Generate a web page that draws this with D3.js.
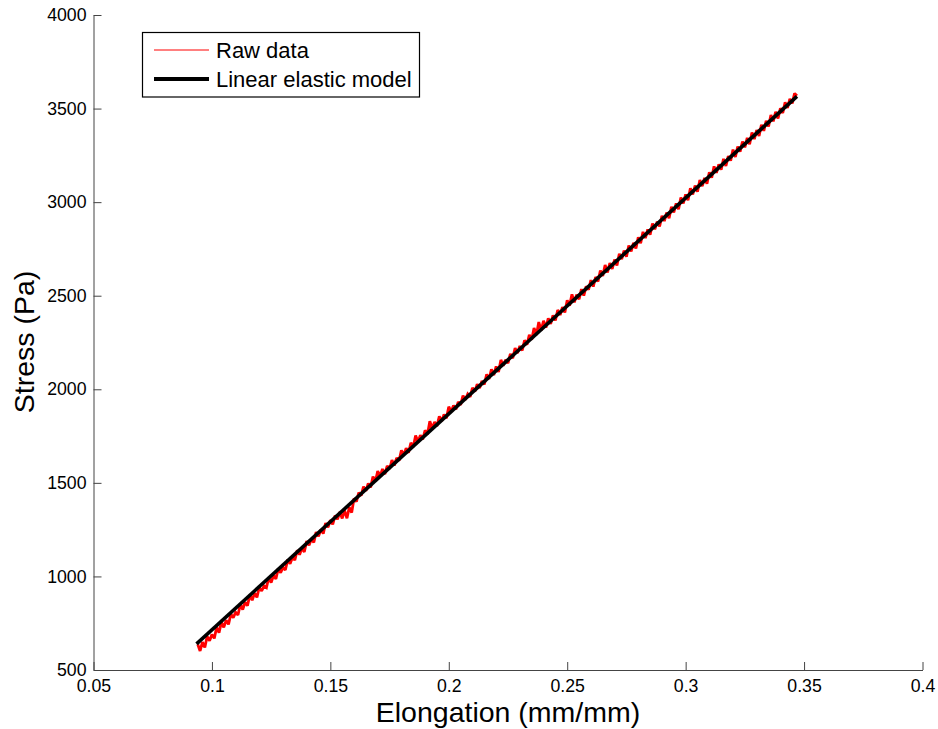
<!DOCTYPE html>
<html>
<head>
<meta charset="utf-8">
<script src="https://cdn.jsdelivr.net/npm/d3@7"></script>
<style>
  html, body { margin: 0; padding: 0; background: #fff; }
  svg { display: block; font-family: "Liberation Sans", Arial, Helvetica, sans-serif; }
</style>
</head>
<body>
<svg id="chart" width="938" height="729"></svg>
<script>
// ---------------- data ----------------
const xTickValues = [0.05, 0.1, 0.15, 0.2, 0.25, 0.3, 0.35, 0.4];
const xTickLabels = ["0.05", "0.1", "0.15", "0.2", "0.25", "0.3", "0.35", "0.4"];
const yTickValues = [500, 1000, 1500, 2000, 2500, 3000, 3500, 4000];
const yTickLabels = ["500", "1000", "1500", "2000", "2500", "3000", "3500", "4000"];

const seriesNames = ["Raw data", "Linear elastic model"];

// raw data: sampled every 0.001 mm/mm starting at 0.094 (stress in Pa)
const rawXStart = 0.094;
const rawXStep = 0.001;
const rawStress = [
  638,602,649,620,680,656,690,669,728,700,
  756,728,766,744,799,779,808,794,851,823,
  862,844,900,873,911,888,942,922,949,940,
  994,967,1005,987,1042,1020,1047,1035,1090,1068,
  1101,1087,1140,1116,1152,1131,1189,1166,1200,1181,
  1237,1214,1250,1229,1285,1262,1300,1278,1325,1305,
  1344,1310,1353,1311,1369,1341,1417,1399,1448,1432,
  1480,1457,1497,1476,1534,1507,1563,1534,1574,1547,
  1591,1574,1622,1593,1633,1619,1674,1648,1685,1661,
  1714,1692,1753,1719,1754,1732,1781,1759,1829,1790,
  1826,1803,1855,1830,1866,1845,1907,1880,1914,1893,
  1933,1917,1966,1944,1975,1959,2008,1988,2027,2007,
  2044,2026,2080,2055,2107,2076,2122,2093,2157,2126,
  2158,2139,2189,2166,2220,2193,2231,2207,2262,2238,
  2291,2265,2328,2290,2359,2315,2366,2330,2379,2349,
  2395,2368,2424,2397,2439,2410,2476,2447,2507,2464,
  2506,2481,2535,2501,2550,2532,2583,2549,2600,2576,
  2635,2605,2664,2624,2674,2643,2693,2662,2724,2695,
  2741,2708,2768,2737,2783,2752,2812,2781,2841,2808,
  2854,2826,2885,2855,2896,2870,2927,2899,2944,2914,
  2975,2945,2993,2962,3024,2993,3041,3010,3074,3041,
  3089,3056,3118,3085,3129,3099,3160,3130,3191,3157,
  3202,3174,3231,3193,3246,3222,3281,3241,3297,3270,
  3324,3293,3343,3310,3372,3337,3385,3354,3414,3381,
  3435,3404,3466,3432,3483,3447,3502,3476,3533,3503,
  3552,3528,3581,3569
];
const rawElongation = rawStress.map((_, i) => rawXStart + rawXStep * i);

// linear elastic model (end points)
const modelElongation = [0.0935, 0.347];
const modelStress = [640, 3565];

// ---------------- layout ----------------
const svg = d3.select("#chart");
const plotLeft = 93.5, plotRight = 922.5, plotTop = 15, plotBottom = 670;
const font = "'Liberation Sans', Arial, Helvetica, sans-serif";

const x = d3.scaleLinear().domain([0.05, 0.4]).range([plotLeft, plotRight]);
const y = d3.scaleLinear().domain([500, 4000]).range([plotBottom, plotTop]);

// axes
const xAxis = d3.axisBottom(x)
  .tickValues(xTickValues)
  .tickFormat((d, i) => xTickLabels[i])
  .tickSizeInner(-8).tickSizeOuter(0).tickPadding(9);
const yAxis = d3.axisLeft(y)
  .tickValues(yTickValues)
  .tickFormat((d, i) => yTickLabels[i])
  .tickSizeInner(-8).tickSizeOuter(0).tickPadding(7);

const gx = svg.append("g").attr("transform", `translate(0,${plotBottom})`).call(xAxis);
const gy = svg.append("g").attr("transform", `translate(${plotLeft},0)`).call(yAxis);
[gx, gy].forEach(g => {
  g.selectAll("path.domain").attr("stroke", "#444").attr("stroke-width", 1);
  g.selectAll(".tick line").attr("stroke", "#444").attr("stroke-width", 1);
  g.selectAll(".tick text").attr("fill", "#000").style("font-size", "17.7px").style("font-family", font);
});

// data lines
const rawData = rawElongation.map((e, i) => [e, rawStress[i]]);
const modelData = modelElongation.map((e, i) => [e, modelStress[i]]);
const line = d3.line().x(d => x(d[0])).y(d => y(d[1]));

svg.append("path").datum(rawData)
  .attr("d", line).attr("fill", "none")
  .attr("stroke", "#ff0000").attr("stroke-width", 2.8).attr("stroke-linejoin", "miter")
  .attr("stroke-miterlimit", 2);

svg.append("path").datum(modelData)
  .attr("d", line).attr("fill", "none")
  .attr("stroke", "#000").attr("stroke-width", 3.6);

// axis labels
svg.append("text")
  .attr("x", (plotLeft + plotRight) / 2).attr("y", 722)
  .attr("text-anchor", "middle")
  .style("font-size", "28.5px").style("font-family", font)
  .text("Elongation (mm/mm)");

svg.append("text")
  .attr("transform", `translate(33.5,342) rotate(-90)`)
  .attr("text-anchor", "middle")
  .style("font-size", "28.5px").style("font-family", font)
  .text("Stress (Pa)");

// legend
const lg = svg.append("g");
lg.append("rect")
  .attr("x", 142.5).attr("y", 32.5).attr("width", 277).attr("height", 64.5)
  .attr("fill", "#fff").attr("stroke", "#000").attr("stroke-width", 1.2);
const legendStyles = [
  { color: "#ff0000", width: 1, y: 50 },
  { color: "#000", width: 4, y: 79 }
];
seriesNames.forEach((name, i) => {
  const s = legendStyles[i];
  lg.append("line")
    .attr("x1", 154).attr("x2", 209).attr("y1", s.y).attr("y2", s.y)
    .attr("stroke", s.color).attr("stroke-width", s.width);
  lg.append("text")
    .attr("x", 216).attr("y", s.y + 8)
    .style("font-size", "22px").style("font-family", font)
    .attr("fill", "#000")
    .text(name);
});
</script>
</body>
</html>
